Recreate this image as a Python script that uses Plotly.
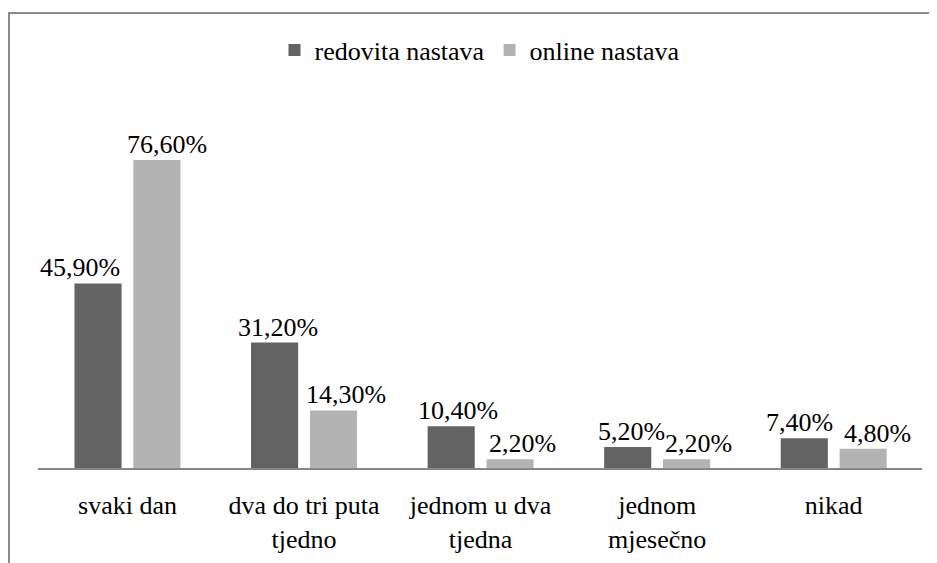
import plotly.graph_objects as go

categories = ["svaki dan", "dva do tri puta<br>tjedno", "jednom u dva<br>tjedna",
              "jednom<br>mjesečno", "nikad"]
redovita = [45.9, 31.2, 10.4, 5.2, 7.4]
online = [76.6, 14.3, 2.2, 2.2, 4.8]
series_names = ["redovita nastava", "online nastava"]

# label horizontal nudges (pixels) relative to each bar centre, as placed in the original
dx_dark = [-18, 3, 7, 4, -5]
dx_light = [10, 12, 12, 12, 14]

DARK = "#636363"
LIGHT = "#b3b3b3"
FONT = "Liberation Serif"
FS = 26

# the page body adds an 8px offset; work in page pixels and subtract it
OFF = 8
W, H = 937 - OFF, 563 - OFF
L = 38 - OFF
T = 106 - OFF
R = W - (922 - OFF)
B = H - (468 - OFF)
pw, ph = W - L - R, H - T - B
YMAX = 90

def fmt(v):
    return f"{v:.2f}".replace(".", ",") + "%"

def px_to_paper_x(px):
    return (px - OFF - L) / pw

def px_to_paper_y(py):
    return 1 - (py - OFF - T) / ph

fig = go.Figure()
fig.add_trace(go.Bar(name=series_names[0], x=categories, y=redovita, marker_color=DARK,
                     marker_line_width=0))
fig.add_trace(go.Bar(name=series_names[1], x=categories, y=online, marker_color=LIGHT,
                     marker_line_width=0))

cat_px = pw / len(categories)
slot = cat_px * (1 - 0.333) / 2
for vals, dxs, sign in ((redovita, dx_dark, -1), (online, dx_light, 1)):
    for c, v, dx in zip(categories, vals, dxs):
        fig.add_annotation(x=c, y=v, xref="x", yref="y", text=fmt(v), showarrow=False,
                           xanchor="center", yanchor="bottom",
                           xshift=sign * slot / 2 + dx, yshift=-1,
                           font=dict(family=FONT, size=FS, color="black"))

border = dict(color="#8a8a8a", width=2)
fig.add_shape(type="line", xref="paper", yref="paper",
              x0=px_to_paper_x(9), x1=px_to_paper_x(9),
              y0=px_to_paper_y(13), y1=px_to_paper_y(580), line=border)
fig.add_shape(type="line", xref="paper", yref="paper",
              x0=px_to_paper_x(8), x1=px_to_paper_x(950),
              y0=px_to_paper_y(13), y1=px_to_paper_y(13), line=border)

fig.update_layout(
    width=W, height=H,
    margin=dict(l=L, r=R, t=T, b=B, autoexpand=False),
    paper_bgcolor="white", plot_bgcolor="white",
    barmode="group", bargap=0.333, bargroupgap=0.2,
    showlegend=True,
    legend=dict(orientation="h", x=0.5, xanchor="center", y=px_to_paper_y(50),
                yanchor="middle", font=dict(family=FONT, size=FS, color="black"),
                itemwidth=30, tracegroupgap=0, bgcolor="rgba(0,0,0,0)"),
    xaxis=dict(showline=True, linecolor="#868686", linewidth=2, ticks="",
               tickfont=dict(family=FONT, size=FS, color="black"),
               ticklabelstandoff=13,
               showgrid=False, zeroline=False, fixedrange=True, automargin=False),
    yaxis=dict(range=[0, YMAX], visible=False, showgrid=False, zeroline=False,
               fixedrange=True, automargin=False),
)

fig.write_html("out.html")
